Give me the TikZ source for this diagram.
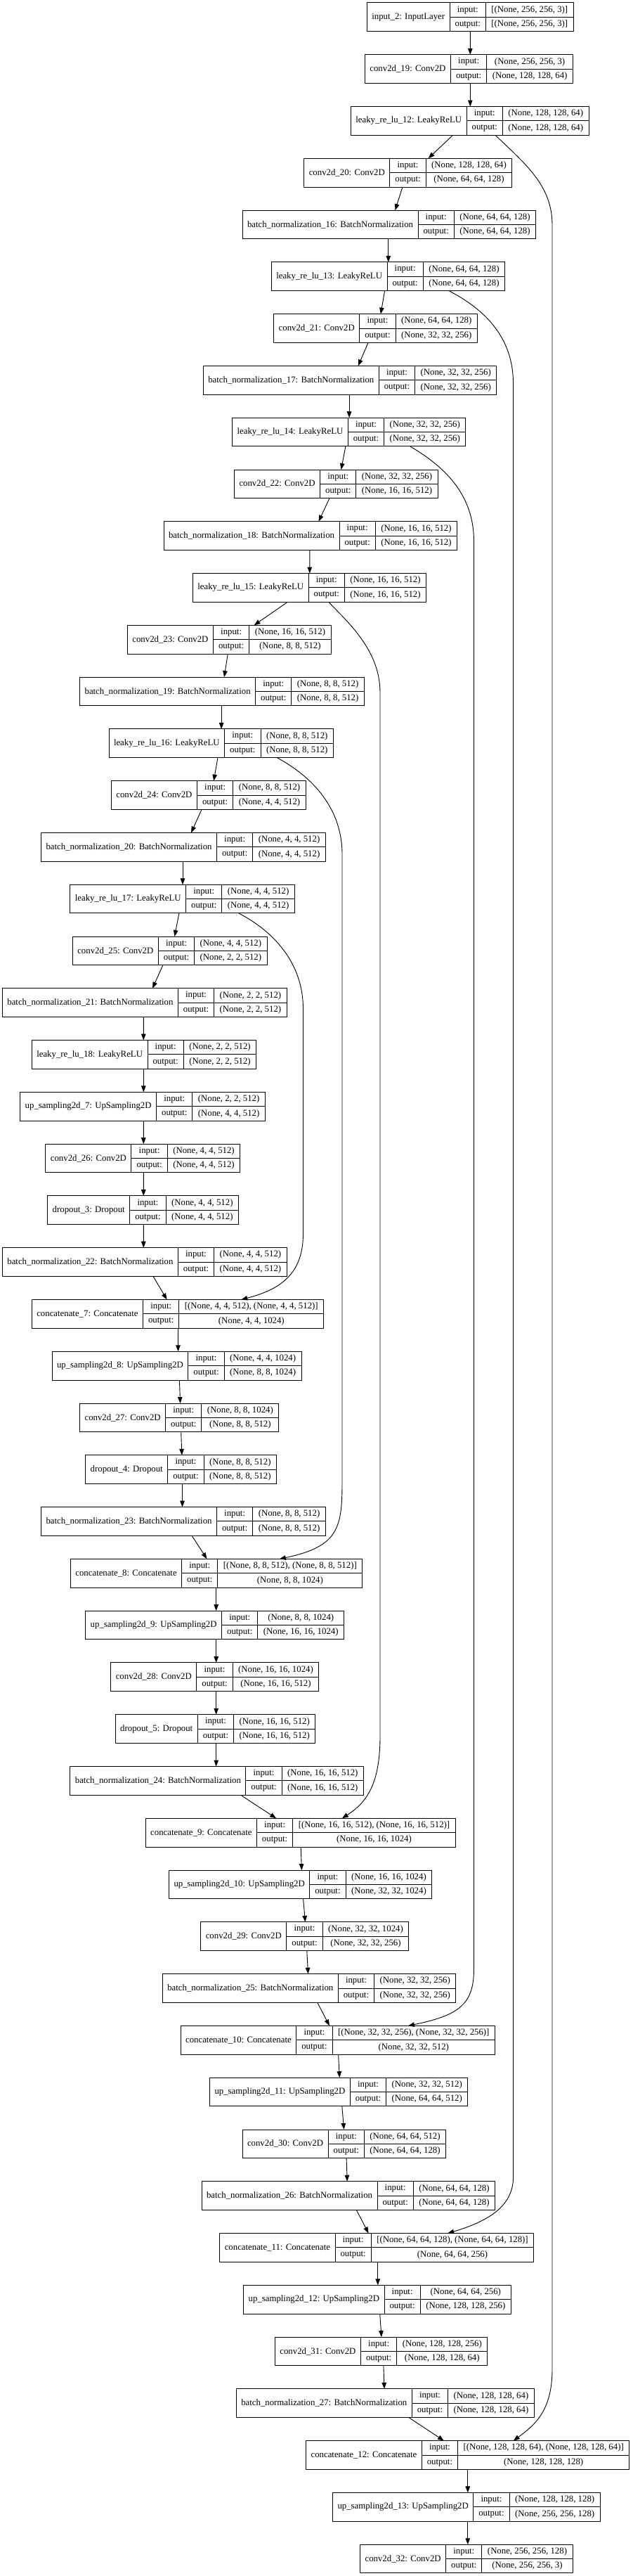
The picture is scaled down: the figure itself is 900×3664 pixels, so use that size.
\documentclass[tikz,border=0pt]{standalone}
\usepackage{fontspec}
\setmainfont{Liberation Serif}
\usepackage{tikz}
\usetikzlibrary{arrows.meta}

\tikzset{
  cell/.style={draw,line width=1pt,outer sep=0pt,anchor=north west,
    minimum height=40.7pt,inner ysep=0pt,
    font=\fontsize{12.8}{20.35}\selectfont},
  namecell/.style={cell,inner xsep=7pt},
  labcell/.style={cell,align=center,minimum width=51.3pt,inner xsep=7pt},
  valcell/.style={cell,align=center,inner xsep=8pt},
  edge/.style={line width=0.9pt,-{Triangle[length=9pt,width=6.5pt]}}
}

% #1 name, #2 left x, #3 row, #4 title, #5 input shape, #6 output shape
\newcommand{\klayer}[6]{%
  \node[namecell] (#1) at (#2,{4+73.78*#3}) {#4};
  \node[labcell] (#1-l) at (#1.north east) {input:\\output:};
  \node[valcell] (#1-v) at (#1-l.north east) {#5\\{}#6};
  \draw[line width=1pt] (#1-l.west) -- (#1-v.east);
}

\begin{document}
\begin{tikzpicture}[x=1pt,y=-1pt]
    \useasboundingbox (0,0) rectangle (900,3664);

    \klayer{in2}{522.3}{0}{input\_2: InputLayer}{[(None, 256, 256, 3)]}{[(None, 256, 256, 3)]}
    \klayer{cv19}{519.4}{1}{conv2d\_19: Conv2D}{(None, 256, 256, 3)}{(None, 128, 128, 64)}
    \klayer{lr12}{499.4}{2}{leaky\_re\_lu\_12: LeakyReLU}{(None, 128, 128, 64)}{(None, 128, 128, 64)}
    \klayer{cv20}{432.8}{3}{conv2d\_20: Conv2D}{(None, 128, 128, 64)}{(None, 64, 64, 128)}
    \klayer{bn16}{345.0}{4}{batch\_normalization\_16: BatchNormalization}{(None, 64, 64, 128)}{(None, 64, 64, 128)}
    \klayer{lr13}{386.3}{5}{leaky\_re\_lu\_13: LeakyReLU}{(None, 64, 64, 128)}{(None, 64, 64, 128)}
    \klayer{cv21}{389.7}{6}{conv2d\_21: Conv2D}{(None, 64, 64, 128)}{(None, 32, 32, 256)}
    \klayer{bn17}{289.3}{7}{batch\_normalization\_17: BatchNormalization}{(None, 32, 32, 256)}{(None, 32, 32, 256)}
    \klayer{lr14}{330.6}{8}{leaky\_re\_lu\_14: LeakyReLU}{(None, 32, 32, 256)}{(None, 32, 32, 256)}
    \klayer{cv22}{333.5}{9}{conv2d\_22: Conv2D}{(None, 32, 32, 256)}{(None, 16, 16, 512)}
    \klayer{bn18}{233.0}{10}{batch\_normalization\_18: BatchNormalization}{(None, 16, 16, 512)}{(None, 16, 16, 512)}
    \klayer{lr15}{274.4}{11}{leaky\_re\_lu\_15: LeakyReLU}{(None, 16, 16, 512)}{(None, 16, 16, 512)}
    \klayer{cv23}{181.4}{12}{conv2d\_23: Conv2D}{(None, 16, 16, 512)}{(None, 8, 8, 512)}
    \klayer{bn19}{113.6}{13}{batch\_normalization\_19: BatchNormalization}{(None, 8, 8, 512)}{(None, 8, 8, 512)}
    \klayer{lr16}{155.0}{14}{leaky\_re\_lu\_16: LeakyReLU}{(None, 8, 8, 512)}{(None, 8, 8, 512)}
    \klayer{cv24}{158.4}{15}{conv2d\_24: Conv2D}{(None, 8, 8, 512)}{(None, 4, 4, 512)}
    \klayer{bn20}{58.5}{16}{batch\_normalization\_20: BatchNormalization}{(None, 4, 4, 512)}{(None, 4, 4, 512)}
    \klayer{lr17}{99.9}{17}{leaky\_re\_lu\_17: LeakyReLU}{(None, 4, 4, 512)}{(None, 4, 4, 512)}
    \klayer{cv25}{103.3}{18}{conv2d\_25: Conv2D}{(None, 4, 4, 512)}{(None, 2, 2, 512)}
    \klayer{bn21}{3.4}{19}{batch\_normalization\_21: BatchNormalization}{(None, 2, 2, 512)}{(None, 2, 2, 512)}
    \klayer{lr18}{45.3}{20}{leaky\_re\_lu\_18: LeakyReLU}{(None, 2, 2, 512)}{(None, 2, 2, 512)}
    \klayer{up7}{28.7}{21}{up\_sampling2d\_7: UpSampling2D}{(None, 2, 2, 512)}{(None, 4, 4, 512)}
    \klayer{cv26}{64.9}{22}{conv2d\_26: Conv2D}{(None, 4, 4, 512)}{(None, 4, 4, 512)}
    \klayer{dp3}{67.7}{23}{dropout\_3: Dropout}{(None, 4, 4, 512)}{(None, 4, 4, 512)}
    \klayer{bn22}{3.4}{24}{batch\_normalization\_22: BatchNormalization}{(None, 4, 4, 512)}{(None, 4, 4, 512)}
    \klayer{cat7}{45.3}{25}{concatenate\_7: Concatenate}{[(None, 4, 4, 512), (None, 4, 4, 512)]}{(None, 4, 4, 1024)}
    \klayer{up8}{74.0}{26}{up\_sampling2d\_8: UpSampling2D}{(None, 4, 4, 1024)}{(None, 8, 8, 1024)}
    \klayer{cv27}{113.6}{27}{conv2d\_27: Conv2D}{(None, 8, 8, 1024)}{(None, 8, 8, 512)}
    \klayer{dp4}{121.7}{28}{dropout\_4: Dropout}{(None, 8, 8, 512)}{(None, 8, 8, 512)}
    \klayer{bn23}{58.5}{29}{batch\_normalization\_23: BatchNormalization}{(None, 8, 8, 512)}{(None, 8, 8, 512)}
    \klayer{cat8}{100.4}{30}{concatenate\_8: Concatenate}{[(None, 8, 8, 512), (None, 8, 8, 512)]}{(None, 8, 8, 1024)}
    \klayer{up9}{121.7}{31}{up\_sampling2d\_9: UpSampling2D}{(None, 8, 8, 1024)}{(None, 16, 16, 1024)}
    \klayer{cv28}{157.8}{32}{conv2d\_28: Conv2D}{(None, 16, 16, 1024)}{(None, 16, 16, 512)}
    \klayer{dp5}{164.2}{33}{dropout\_5: Dropout}{(None, 16, 16, 512)}{(None, 16, 16, 512)}
    \klayer{bn24}{99.9}{34}{batch\_normalization\_24: BatchNormalization}{(None, 16, 16, 512)}{(None, 16, 16, 512)}
    \klayer{cat9}{207.2}{35}{concatenate\_9: Concatenate}{[(None, 16, 16, 512), (None, 16, 16, 512)]}{(None, 16, 16, 1024)}
    \klayer{up10}{240.5}{36}{up\_sampling2d\_10: UpSampling2D}{(None, 16, 16, 1024)}{(None, 32, 32, 1024)}
    \klayer{cv29}{285.8}{37}{conv2d\_29: Conv2D}{(None, 32, 32, 1024)}{(None, 32, 32, 256)}
    \klayer{bn25}{231.3}{38}{batch\_normalization\_25: BatchNormalization}{(None, 32, 32, 256)}{(None, 32, 32, 256)}
    \klayer{cat10}{257.1}{39}{concatenate\_10: Concatenate}{[(None, 32, 32, 256), (None, 32, 32, 256)]}{(None, 32, 32, 512)}
    \klayer{up11}{298.5}{40}{up\_sampling2d\_11: UpSampling2D}{(None, 32, 32, 512)}{(None, 64, 64, 512)}
    \klayer{cv30}{345.0}{41}{conv2d\_30: Conv2D}{(None, 64, 64, 512)}{(None, 64, 64, 128)}
    \klayer{bn26}{287.0}{42}{batch\_normalization\_26: BatchNormalization}{(None, 64, 64, 128)}{(None, 64, 64, 128)}
    \klayer{cat11}{312.8}{43}{concatenate\_11: Concatenate}{[(None, 64, 64, 128), (None, 64, 64, 128)]}{(None, 64, 64, 256)}
    \klayer{up12}{346.7}{44}{up\_sampling2d\_12: UpSampling2D}{(None, 64, 64, 256)}{(None, 128, 128, 256)}
    \klayer{cv31}{391.4}{45}{conv2d\_31: Conv2D}{(None, 128, 128, 256)}{(None, 128, 128, 64)}
    \klayer{bn27}{336.3}{46}{batch\_normalization\_27: BatchNormalization}{(None, 128, 128, 64)}{(None, 128, 128, 64)}
    \klayer{cat12}{435.6}{47}{concatenate\_12: Concatenate}{[(None, 128, 128, 64), (None, 128, 128, 64)]}{(None, 128, 128, 128)}
    \klayer{up13}{473.5}{48}{up\_sampling2d\_13: UpSampling2D}{(None, 128, 128, 128)}{(None, 256, 256, 128)}
    \klayer{cv32}{512.6}{49}{conv2d\_32: Conv2D}{(None, 256, 256, 128)}{(None, 256, 256, 3)}

    % main chain
    \foreach \a/\b/\s/\e in {in2/cv19/147.0/149.9, cv19/lr12/149.9/169.9,
        lr12/cv20/145.2/176.8, cv20/bn16/140.1/217.5, bn16/lr13/207.8/166.5,
        lr13/cv21/161.3/152.2, cv21/bn17/134.4/220.4, bn17/lr14/207.8/166.5,
        lr14/cv22/161.3/152.1, cv22/bn18/135.5/220.5, bn18/lr15/207.8/166.4,
        lr15/cv23/134.9/180.2, cv23/bn19/142.9/205.5, bn19/lr16/201.5/160.1,
        lr16/cv24/155.0/145.8, cv24/bn20/128.6/213.6, bn20/lr17/201.5/160.1,
        lr17/cv25/155.0/145.2, cv25/bn21/128.6/213.6, bn21/lr18/200.9/159.0,
        lr18/up7/159.0/175.6, up7/cv26/175.6/139.4, cv26/dp3/139.4/136.6,
        dp3/bn22/136.6/200.9, bn22/cat7/214.7/192.3, cat7/up8/208.2/179.5,
        up8/cv27/181.4/143.0, cv27/dp4/144.1/137.2, dp4/bn23/137.8/201.0,
        bn23/cat8/214.7/194.1, cat8/up9/207.3/186.0, up9/cv28/186.0/149.9,
        cv28/dp5/149.9/143.5, dp5/bn24/143.5/207.8, bn24/cat9/242.8/186.0,
        cat9/up10/221.0/188.9, up10/cv29/191.1/148.7, cv29/bn25/151.0/207.2,
        bn25/cat10/220.5/211.9, cat10/up11/224.5/184.8, up11/cv30/188.3/144.6,
        cv30/bn26/148.1/207.2, bn26/cat11/220.4/211.8, cat11/up12/225.0/191.1,
        up12/cv31/194.0/151.6, cv31/bn27/154.5/210.7, bn27/cat12/245.7/196.4,
        cat12/up13/230.2/192.3, up13/cv32/192.3/153.2}
      \draw[edge] ([xshift=\s pt]\a.south west) -- ([xshift=\e pt]\b.north west);

    % skip connections
    \draw[edge] ([xshift=205.6pt]lr12.south west) .. controls (750,235) and (786,265) .. (786,320)
        -- (786,3370) .. controls (786,3430) and (760,3450) .. ([xshift=295.1pt]cat12.north west);
    \draw[edge] ([xshift=252.6pt]lr13.south west) .. controls (690,440) and (730.5,480) .. (730.5,545)
        -- (730.5,3097) .. controls (730.5,3135) and (700,3158) .. ([xshift=324.4pt]cat11.north west);
    \draw[edge] ([xshift=253.2pt]lr14.south west) .. controls (635,665) and (674.5,705) .. (674.5,770)
        -- (674.5,2800) .. controls (674.5,2850) and (655,2866) .. ([xshift=323.8pt]cat10.north west);
    \draw[edge] ([xshift=193.4pt]lr15.south west) .. controls (495,885) and (541,925) .. (541,985)
        -- (541,2470) .. controls (541,2540) and (520,2565) .. ([xshift=279.6pt]cat9.north west);
    \draw[edge] ([xshift=239.3pt]lr16.south west) .. controls (445,1105) and (487,1150) .. (487,1215)
        -- (487,2110) .. controls (487,2175) and (480,2200) .. ([xshift=297.4pt]cat8.north west);
    \draw[edge] ([xshift=239.9pt]lr17.south west) .. controls (390,1325) and (431.5,1370) .. (431.5,1435)
        -- (431.5,1755) .. controls (431.5,1815) and (395,1835) .. ([xshift=298.0pt]cat7.north west);
\end{tikzpicture}
\end{document}
